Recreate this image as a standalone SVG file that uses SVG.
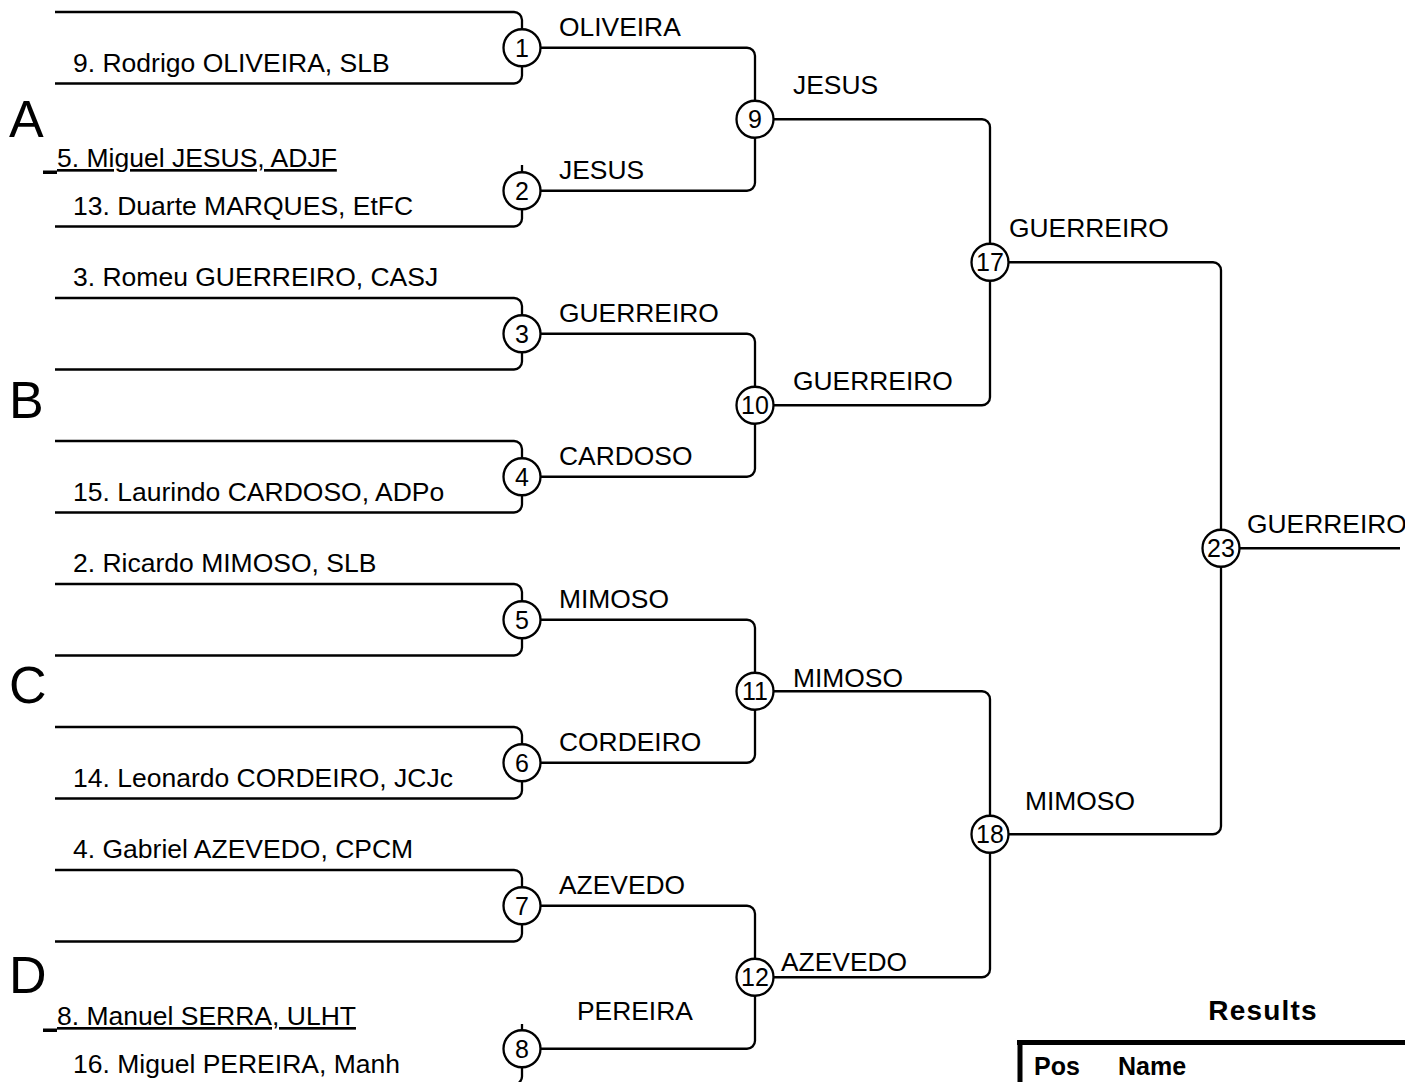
<svg xmlns="http://www.w3.org/2000/svg" width="1405" height="1082" viewBox="0 0 1405 1082">
<style>
  text { font-family: "Liberation Sans", Arial, sans-serif; fill: #000; }
  .name { font-size: 26.5px; }
  .win { font-size: 26.4px; }
  .num { font-size: 25px; text-anchor: middle; }
  .pool { font-size: 52px; }
  .bold { font-weight: bold; }
  .line { fill: none; stroke: #000; stroke-width: 2.3; }
  .node circle { fill: #fff; stroke: #000; stroke-width: 2.3; }
</style>
<rect width="1405" height="1082" fill="#fff"/>

<g id="connectors" class="line">
  <!-- round 1 -->
  <path d="M55,12 H514 A8,8 0 0 1 522,20 V29.25"/>
  <path d="M55,83.5 H514 A8,8 0 0 0 522,75.5 V66.25"/>
  <path d="M522,165 V172.25"/>
  <path d="M55,226.5 H514 A8,8 0 0 0 522,218.5 V209.25"/>
  <path d="M55,298 H514 A8,8 0 0 1 522,306 V315.25"/>
  <path d="M55,369.5 H514 A8,8 0 0 0 522,361.5 V352.25"/>
  <path d="M55,441 H514 A8,8 0 0 1 522,449 V458.25"/>
  <path d="M55,512.5 H514 A8,8 0 0 0 522,504.5 V495.25"/>
  <path d="M55,584 H514 A8,8 0 0 1 522,592 V601.25"/>
  <path d="M55,655.5 H514 A8,8 0 0 0 522,647.5 V638.25"/>
  <path d="M55,727 H514 A8,8 0 0 1 522,735 V744.25"/>
  <path d="M55,798.5 H514 A8,8 0 0 0 522,790.5 V781.25"/>
  <path d="M55,870 H514 A8,8 0 0 1 522,878 V887.25"/>
  <path d="M55,941.5 H514 A8,8 0 0 0 522,933.5 V924.25"/>
  <path d="M522,1024 V1030.25"/>
  <path d="M55,1084.5 H514 A8,8 0 0 0 522,1076.5 V1067.25"/>
  <!-- round 2 -->
  <path d="M540.5,47.75 H747 A8,8 0 0 1 755,55.75 V100.75"/>
  <path d="M540.5,190.75 H747 A8,8 0 0 0 755,182.75 V137.75"/>
  <path d="M540.5,333.75 H747 A8,8 0 0 1 755,341.75 V386.75"/>
  <path d="M540.5,476.75 H747 A8,8 0 0 0 755,468.75 V423.75"/>
  <path d="M540.5,619.75 H747 A8,8 0 0 1 755,627.75 V672.75"/>
  <path d="M540.5,762.75 H747 A8,8 0 0 0 755,754.75 V709.75"/>
  <path d="M540.5,905.75 H747 A8,8 0 0 1 755,913.75 V958.75"/>
  <path d="M540.5,1048.75 H747 A8,8 0 0 0 755,1040.75 V995.75"/>
  <!-- round 3 -->
  <path d="M773.5,119.25 H982 A8,8 0 0 1 990,127.25 V243.75"/>
  <path d="M773.5,405.25 H982 A8,8 0 0 0 990,397.25 V280.75"/>
  <path d="M773.5,691.25 H982 A8,8 0 0 1 990,699.25 V815.75"/>
  <path d="M773.5,977.25 H982 A8,8 0 0 0 990,969.25 V852.75"/>
  <!-- final -->
  <path d="M1008.5,262.25 H1213 A8,8 0 0 1 1221,270.25 V529.75"/>
  <path d="M1008.5,834.25 H1213 A8,8 0 0 0 1221,826.25 V566.75"/>
  <path d="M1239.5,548.25 H1400"/>
</g>

<g id="pools">
  <text class="pool" x="9" y="137">A</text>
  <text class="pool" x="9" y="418">B</text>
  <text class="pool" x="9" y="703">C</text>
  <text class="pool" x="9" y="993">D</text>
</g>

<g id="entries">
  <text class="name" x="73" y="71.5">9. Rodrigo OLIVEIRA, SLB</text>
  <rect x="43" y="170.5" width="14" height="3.5" fill="#000"/>
  <text class="name" x="57" y="167" text-decoration="underline">5. Miguel JESUS, ADJF</text>
  <text class="name" x="73" y="214.5">13. Duarte MARQUES, EtFC</text>
  <text class="name" x="73" y="286">3. Romeu GUERREIRO, CASJ</text>
  <text class="name" x="73" y="500.5">15. Laurindo CARDOSO, ADPo</text>
  <text class="name" x="73" y="572">2. Ricardo MIMOSO, SLB</text>
  <text class="name" x="73" y="786.5">14. Leonardo CORDEIRO, JCJc</text>
  <text class="name" x="73" y="858">4. Gabriel AZEVEDO, CPCM</text>
  <rect x="43" y="1028.5" width="14" height="3.5" fill="#000"/>
  <text class="name" x="57" y="1025" text-decoration="underline">8. Manuel SERRA, ULHT</text>
  <text class="name" x="73" y="1072.5">16. Miguel PEREIRA, Manh</text>
</g>

<g id="winners">
  <text class="win" x="559" y="36">OLIVEIRA</text>
  <text class="win" x="559" y="179">JESUS</text>
  <text class="win" x="559" y="322">GUERREIRO</text>
  <text class="win" x="559" y="465">CARDOSO</text>
  <text class="win" x="559" y="608">MIMOSO</text>
  <text class="win" x="559" y="751">CORDEIRO</text>
  <text class="win" x="559" y="894">AZEVEDO</text>
  <text class="win" x="577" y="1020">PEREIRA</text>
  <text class="win" x="793" y="94">JESUS</text>
  <text class="win" x="793" y="390">GUERREIRO</text>
  <text class="win" x="793" y="687">MIMOSO</text>
  <text class="win" x="781" y="971">AZEVEDO</text>
  <text class="win" x="1009" y="237">GUERREIRO</text>
  <text class="win" x="1025" y="810">MIMOSO</text>
  <text class="win" x="1247" y="533">GUERREIRO</text>
</g>

<g id="m1" class="node"><circle cx="522" cy="47.75" r="18.5"/><text class="num" x="522" y="56.75">1</text></g>
<g id="m2" class="node"><circle cx="522" cy="190.75" r="18.5"/><text class="num" x="522" y="199.75">2</text></g>
<g id="m3" class="node"><circle cx="522" cy="333.75" r="18.5"/><text class="num" x="522" y="342.75">3</text></g>
<g id="m4" class="node"><circle cx="522" cy="476.75" r="18.5"/><text class="num" x="522" y="485.75">4</text></g>
<g id="m5" class="node"><circle cx="522" cy="619.75" r="18.5"/><text class="num" x="522" y="628.75">5</text></g>
<g id="m6" class="node"><circle cx="522" cy="762.75" r="18.5"/><text class="num" x="522" y="771.75">6</text></g>
<g id="m7" class="node"><circle cx="522" cy="905.75" r="18.5"/><text class="num" x="522" y="914.75">7</text></g>
<g id="m8" class="node"><circle cx="522" cy="1048.75" r="18.5"/><text class="num" x="522" y="1057.75">8</text></g>
<g id="m9" class="node"><circle cx="755" cy="119.25" r="18.5"/><text class="num" x="755" y="128.25">9</text></g>
<g id="m10" class="node"><circle cx="755" cy="405.25" r="18.5"/><text class="num" x="755" y="414.25">10</text></g>
<g id="m11" class="node"><circle cx="755" cy="691.25" r="18.5"/><text class="num" x="755" y="700.25">11</text></g>
<g id="m12" class="node"><circle cx="755" cy="977.25" r="18.5"/><text class="num" x="755" y="986.25">12</text></g>
<g id="m17" class="node"><circle cx="990" cy="262.25" r="18.5"/><text class="num" x="990" y="271.25">17</text></g>
<g id="m18" class="node"><circle cx="990" cy="834.25" r="18.5"/><text class="num" x="990" y="843.25">18</text></g>
<g id="m23" class="node"><circle cx="1221" cy="548.25" r="18.5"/><text class="num" x="1221" y="557.25">23</text></g>

<g id="results">
  <text class="bold" x="1263" y="1020" font-size="28" text-anchor="middle" letter-spacing="1.2">Results</text>
  <path d="M1017,1042.5 H1405 M1020,1040 V1082" fill="none" stroke="#000" stroke-width="5"/>
  <text class="bold" x="1034" y="1075" font-size="25">Pos</text>
  <text class="bold" x="1118" y="1075" font-size="25">Name</text>
</g>
</svg>
